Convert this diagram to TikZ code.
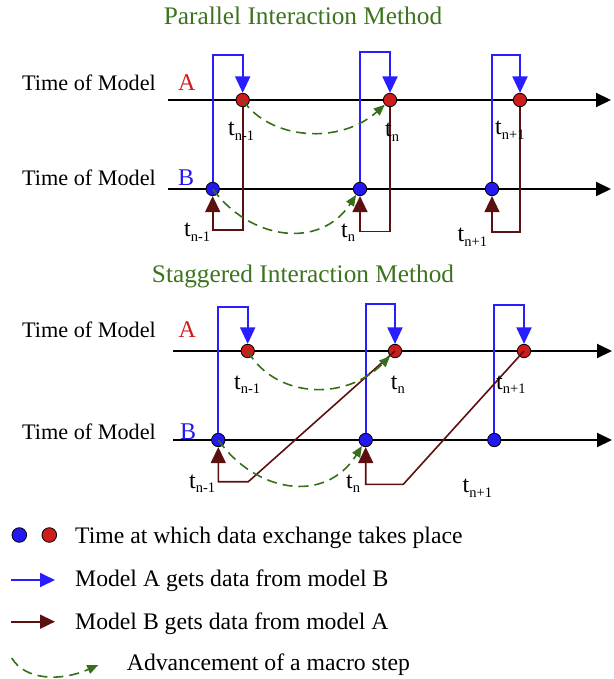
\documentclass[tikz,border=0pt]{standalone}
\usepackage{fontspec}
\setmainfont{Liberation Serif}
\usetikzlibrary{arrows.meta}

\definecolor{ttlgreen}{RGB}{60,115,30}
\definecolor{advgreen}{RGB}{55,110,25}
\definecolor{ptred}{RGB}{205,28,28}
\definecolor{ptblue}{RGB}{35,25,240}
\definecolor{lnblue}{RGB}{40,30,255}
\definecolor{maroon}{RGB}{92,16,16}

% time label t with a lowered index
\newcommand\tlab[1]{{\fontsize{24}{24}\selectfont t}\raisebox{-4.5pt}{\fontsize{14.5}{14.5}\selectfont #1}}

\begin{document}
\begin{tikzpicture}[x=1pt,y=-1pt,
  title/.style={anchor=base, inner sep=0, text=ttlgreen, font=\fontsize{25.3}{25.3}\selectfont},
  rowlab/.style={anchor=base west, inner sep=0, font=\fontsize{22.2}{22.2}\selectfont},
  modlab/.style={anchor=base west, inner sep=0, font=\fontsize{24}{24}\selectfont},
  tl/.style={anchor=base west, inner sep=0},
  legtext/.style={anchor=base west, inner sep=0, font=\fontsize{23.7}{23.7}\selectfont},
  axis/.style={draw=black, line width=2pt, -{Triangle[length=15pt,width=14pt]}},
  ptA/.style={circle, draw=black, line width=0.8pt, fill=ptred, minimum size=13.4pt, inner sep=0},
  ptB/.style={circle, draw=black, line width=0.8pt, fill=ptblue, minimum size=13.4pt, inner sep=0},
  getsB/.style={draw=lnblue, line width=2pt, -{Triangle[length=16.5pt,width=15pt,fill=lnblue]}},
  getsA/.style={draw=maroon, line width=1.6pt, -{Triangle[length=16pt,width=15pt,fill=maroon]}},
  adv/.style={draw=advgreen, line width=1.6pt, dash pattern=on 10pt off 6pt,
              -{Triangle[length=11pt,width=9pt,fill=advgreen,sep=0pt]}}]
\useasboundingbox (0,0) rectangle (613,679);

% ---------------- Parallel interaction ----------------
\node[title] (tpar) at (303,25) {Parallel Interaction Method};
\node[rowlab] (rA1) at (22,90.7) {Time of Model};
\node[modlab, text=ptred] (mA1) at (178,90.7) {A};
\node[rowlab] (rB1) at (22,185.7) {Time of Model};
\node[modlab, text=ptblue] (mB1) at (178,185.7) {B};

\coordinate (ax1s) at (168,100);  \coordinate (ax1e) at (611,100);
\coordinate (bx1s) at (168,189);  \coordinate (bx1e) at (611,189);
\draw[axis] (ax1s) -- (ax1e);
\draw[axis] (bx1s) -- (bx1e);

\node[ptA] (a1) at (242.7,100) {};
\node[ptA] (a2) at (390,100) {};
\node[ptA] (a3) at (520,100) {};
\node[ptB] (b1) at (212.7,189) {};
\node[ptB] (b2) at (360,189) {};
\node[ptB] (b3) at (492,189) {};

% A receives from B
\draw[getsB] (b1.north) -- (b1 |- 0,55) -- (a1 |- 0,55) -- (a1.north);
\draw[getsB] (b2.north) -- (b2 |- 0,52.5) -- (a2 |- 0,52.5) -- (a2.north);
\draw[getsB] (b3.north) -- (b3 |- 0,55) -- (a3 |- 0,55) -- (a3.north);
% B receives from A
\draw[getsA] (a1.south) -- (a1 |- 0,230) -- (b1 |- 0,230) -- (b1.south);
\draw[getsA] (a2.south) -- (a2 |- 0,231.5) -- (b2 |- 0,231.5) -- (b2.south);
\draw[getsA] (a3.south) -- (a3 |- 0,232) -- (b3 |- 0,232) -- (b3.south);
% macro steps
\draw[adv] (a1.center) .. controls (270,140) and (340,145) .. (a2);
\draw[adv] (b1.center) .. controls (250,240) and (320,250) .. (b2);

\node[tl] (ta1) at (228,136) {\tlab{n-1}};
\node[tl] (ta2) at (385,137) {\tlab{n}};
\node[tl] (ta3) at (495,135) {\tlab{n+1}};
\node[tl] (tb1) at (184,236.7) {\tlab{n-1}};
\node[tl] (tb2) at (341,237) {\tlab{n}};
\node[tl] (tb3) at (457.5,241.7) {\tlab{n+1}};

% ---------------- Staggered interaction ----------------
\node[title] (tstg) at (303,282.3) {Staggered Interaction Method};
\node[rowlab] (rA2) at (22,337.7) {Time of Model};
\node[modlab, text=ptred] (mA2) at (178.3,337.7) {A};
\node[rowlab] (rB2) at (22,439.5) {Time of Model};
\node[modlab, text=ptblue] (mB2) at (180,439.5) {B};

\coordinate (ax2s) at (173,351);  \coordinate (ax2e) at (612,351);
\coordinate (bx2s) at (173,440);  \coordinate (bx2e) at (612,440);
\draw[axis] (ax2s) -- (ax2e);
\draw[axis] (bx2s) -- (bx2e);

\node[ptA] (c1) at (247.7,351) {};
\node[ptA] (c2) at (395,351) {};
\node[ptA] (c3) at (524,351) {};
\node[ptB] (d1) at (218.3,440) {};
\node[ptB] (d2) at (365.7,440) {};
\node[ptB] (d3) at (494.3,440) {};

\draw[getsB] (d1.north) -- (d1 |- 0,306.7) -- (c1 |- 0,306.7) -- (c1.north);
\draw[getsB] (d2.north) -- (d2 |- 0,304.3) -- (c2 |- 0,304.3) -- (c2.north);
\draw[getsB] (d3.north) -- (d3 |- 0,305) -- (c3 |- 0,305) -- (c3.north);

\coordinate (k1) at (248.3,481.7);
\coordinate (k2) at (403.3,484.3);
\draw[getsA] (c2.center) -- (k1) -- (d1 |- k1) -- (d1.south);
\draw[getsA] (c3.center) -- (k2) -- (d2 |- k2) -- (d2.south);

\draw[adv] (c1.center) .. controls (275,398) and (345,402) .. (c2);
\draw[adv] (d1.center) .. controls (255,492) and (325,505) .. (d2);

\node[tl] (tc1) at (234,389) {\tlab{n-1}};
\node[tl] (tc2) at (390.7,389) {\tlab{n}};
\node[tl] (tc3) at (496,389) {\tlab{n+1}};
\node[tl] (td1) at (189,488) {\tlab{n-1}};
\node[tl] (td2) at (346,488) {\tlab{n}};
\node[tl] (td3) at (462.5,492.7) {\tlab{n+1}};

% ---------------- Legend ----------------
\node[ptB, minimum size=14.6pt] (lg1) at (19.3,535) {};
\node[ptA, minimum size=14.6pt] (lg2) at (49.3,535) {};
\node[legtext] (lt1) at (75,543.3) {Time at which data exchange takes place};

\coordinate (lbs) at (11,580);  \coordinate (lbe) at (55,580);
\draw[getsB, line width=1.8pt, -{Triangle[length=15pt,width=14pt,fill=lnblue]}] (lbs) -- (lbe);
\node[legtext] (lt2) at (75,586.7) {Model A gets data from model B};

\coordinate (lms) at (11,621.7);  \coordinate (lme) at (55,621.7);
\draw[getsA, -{Triangle[length=15pt,width=14pt,fill=maroon]}] (lms) -- (lme);
\node[legtext] (lt3) at (75,629.3) {Model B gets data from model A};

\coordinate (lgs) at (11.7,658);  \coordinate (lge) at (98.3,665);
\draw[adv] (lgs) .. controls (25,680) and (60,682) .. (lge);
\node[legtext] (lt4) at (126.7,670) {Advancement of a macro step};
\end{tikzpicture}
\end{document}
